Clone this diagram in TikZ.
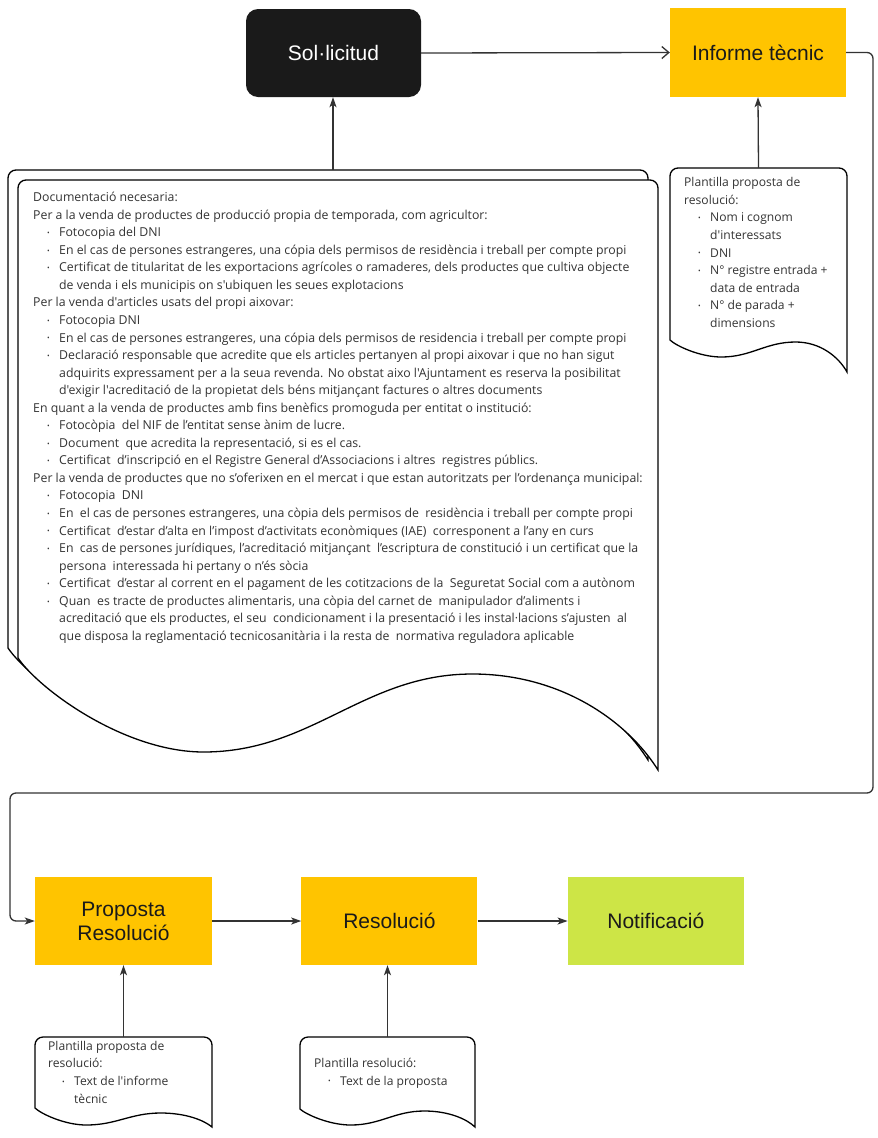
\documentclass[tikz,border=0pt]{standalone}
\usepackage{fontspec}
\setmainfont{Liberation Sans}
\newfontfamily\docfont{Open Sans}[Ligatures=TeXOff]
\usetikzlibrary{arrows.meta,positioning}
\definecolor{boxyellow}{RGB}{255,196,0}
\definecolor{boxlime}{RGB}{205,229,70}
\definecolor{boxblack}{RGB}{26,26,26}
\definecolor{doctext}{RGB}{51,51,51}

% bullet line and continuation line in the document texts
\newcommand{\bl}{\hspace*{14pt}\makebox[12pt][l]{\raisebox{1.2pt}{\fontsize{7}{7}\selectfont •}}}
\newcommand{\cl}{\hspace*{26pt}}

% document outline: x0, y0, x1, y1, then the wave: left end, dip and crest above y1
\newcommand{\docshape}[7]{%
  \pgfmathsetmacro{\dw}{#3-#1}
  \filldraw[docline] (#1,#4-#5) [rounded corners=8pt] -- (#1,#2) -- (#3,#2) [sharp corners] -- (#3,#4)
    .. controls (#1+0.953*\dw,#4-0.5*#7) and (#1+0.85*\dw,#4-#7) .. (#1+0.71*\dw,#4-#7)
    .. controls (#1+0.54*\dw,#4-#7) and (#1+0.46*\dw,#4-#6) .. (#1+0.29*\dw,#4-#6)
    .. controls (#1+0.167*\dw,#4-#6) and (#1+0.034*\dw,{#4-(#6+0.66*(#5-#6))}) .. (#1,#4-#5) -- cycle;
}

\begin{document}
\begin{tikzpicture}[x=1pt,y=-1pt,
    flowbox/.style={minimum width=176pt,minimum height=88pt,inner sep=2pt,
      font=\fontsize{21}{24}\selectfont,align=center,text=boxblack},
    docline/.style={draw=black,fill=white,line width=1.3pt},
    doctxt/.style={font=\docfont\fontsize{12.1}{17.55}\selectfont,text=doctext,
      align=left,anchor=north west,inner sep=0pt},
    docarea/.style={inner sep=0pt},
    flow/.style={draw=black!80,line width=1.3pt,-{Stealth[length=10pt,width=7pt,inset=2.5pt]}},
  ]
  \useasboundingbox[fill=white] (0,0) rectangle (878,1138);

  % boxes
  \node[flowbox,fill=boxblack,text=white,rounded corners=12pt,minimum width=175pt] (sol) at (333.5,53) {Sol·licitud};
  \node[flowbox,fill=boxyellow,minimum height=89pt] (inf) at (758,52.5) {Informe tècnic};
  \node[flowbox,fill=boxyellow,minimum width=177pt] (prop) at (123.5,921) {Proposta\\Resolució};
  \node[flowbox,fill=boxyellow,right=89pt of prop] (res) {Resolució};
  \node[flowbox,fill=boxlime,right=90pt of res] (notif) {Notificació};

  % documents
  \docshape{8}{170}{648}{760}{112}{18}{96}
  \docshape{18}{180}{658}{770}{112}{18}{96}
  \docshape{670}{168}{847}{372}{32}{15}{30}
  \docshape{35}{1037}{212}{1127}{19}{2}{14}
  \docshape{300}{1037}{475}{1127}{18}{2}{16}

  \node[docarea,minimum width=650pt,minimum height=600pt] (docs) at (333,470) {};
  \node[docarea,minimum width=177pt,minimum height=204pt] (tplinf) at (758.5,270) {};
  \node[docarea,minimum width=177pt,minimum height=90pt] (tplprop) at (123.5,1082) {};
  \node[docarea,minimum width=175pt,minimum height=90pt] (tplres) at (387.5,1082) {};

  \node[doctxt,font=\docfont\fontsize{12.3}{17.55}\selectfont] (docstxt) at (33,192) {Documentació necesaria:\\
    Per a la venda de productes de producció propia de temporada, com agricultor:\\
    \bl Fotocopia del DNI\\
    \bl En el cas de persones estrangeres, una cópia dels permisos de residència i treball per compte propi\\
    \bl Certificat de titularitat de les exportacions agrícoles o ramaderes, dels productes que cultiva objecte\\
    \cl de venda i els municipis on s'ubiquen les seues explotacions\\
    Per la venda d'articles usats del propi aixovar:\\
    \bl Fotocopia DNI\\
    \bl En el cas de persones estrangeres, una cópia dels permisos de residencia i treball per compte propi\\
    \bl Declaració responsable que acredite que els articles pertanyen al propi aixovar i que no han sigut\\
    \cl adquirits expressament per a la seua revenda. No obstat aixo l'Ajuntament es reserva la posibilitat\\
    \cl d'exigir l'acreditació de la propietat dels béns mitjançant factures o altres documents\\
    En quant a la venda de productes amb fins benèfics promoguda per entitat o institució:\\
    \bl Fotocòpia~ del NIF de l’entitat sense ànim de lucre.\\
    \bl Document~ que acredita la representació, si es el cas.\\
    \bl Certificat~ d’inscripció en el Registre General d’Associacions i altres~ registres públics.\\
    Per la venda de productes que no s’oferixen en el mercat i que estan autoritzats per l’ordenança municipal:\\
    \bl Fotocopia~ DNI\\
    \bl En~ el cas de persones estrangeres, una còpia dels permisos de~ residència i treball per compte propi\\
    \bl Certificat~ d’estar d’alta en l’impost d’activitats econòmiques (IAE)~ corresponent a l’any en curs\\
    \bl En~ cas de persones jurídiques, l’acreditació mitjançant~ l’escriptura de constitució i un certificat que la\\
    \cl persona~ interessada hi pertany o n’és sòcia\\
    \bl Certificat~ d’estar al corrent en el pagament de les cotitzacions de la~ Seguretat Social com a autònom\\
    \bl Quan~ es tracte de productes alimentaris, una còpia del carnet de~ manipulador d’aliments i\\
    \cl acreditació que els productes, el seu~ condicionament i la presentació i les instal·lacions s’ajusten~ al\\
    \cl que disposa la reglamentació tecnicosanitària i la resta de~ normativa reguladora aplicable};
  \node[doctxt] (tplinftxt) at (684,177.5) {Plantilla proposta de\\
    resolució:\\
    \bl Nom i cognom\\
    \cl d'interessats\\
    \bl DNI\\
    \bl N° registre entrada +\\
    \cl data de entrada\\
    \bl N° de parada +\\
    \cl dimensions};
  \node[doctxt] (tplproptxt) at (48,1041) {Plantilla proposta de\\
    resolució:\\
    \bl Text de l'informe\\
    \cl tècnic};
  \node[doctxt] (tplrestxt) at (314,1058) {Plantilla resolució:\\
    \bl Text de la proposta};

  % connectors
  \coordinate (turnR) at (873,793);
  \coordinate (turnL) at (10,793);
  \draw[flow] (docs.north) -- (docs.north |- sol.south);
  \draw[flow,-{Straight Barb[length=7pt,width=12pt]}] (sol.east) -- (inf.west);
  \draw[flow] (tplinf.north) -- (inf.south);
  \draw[flow,rounded corners=6pt] (inf.east) -| (turnR) -- (turnL) |- (prop.west);
  \draw[flow] (prop) -- (res);
  \draw[flow] (res) -- (notif);
  \draw[flow] (tplprop.north) -- (prop.south);
  \draw[flow] (tplres.north) -- (tplres.north |- res.south);
\end{tikzpicture}
\end{document}
